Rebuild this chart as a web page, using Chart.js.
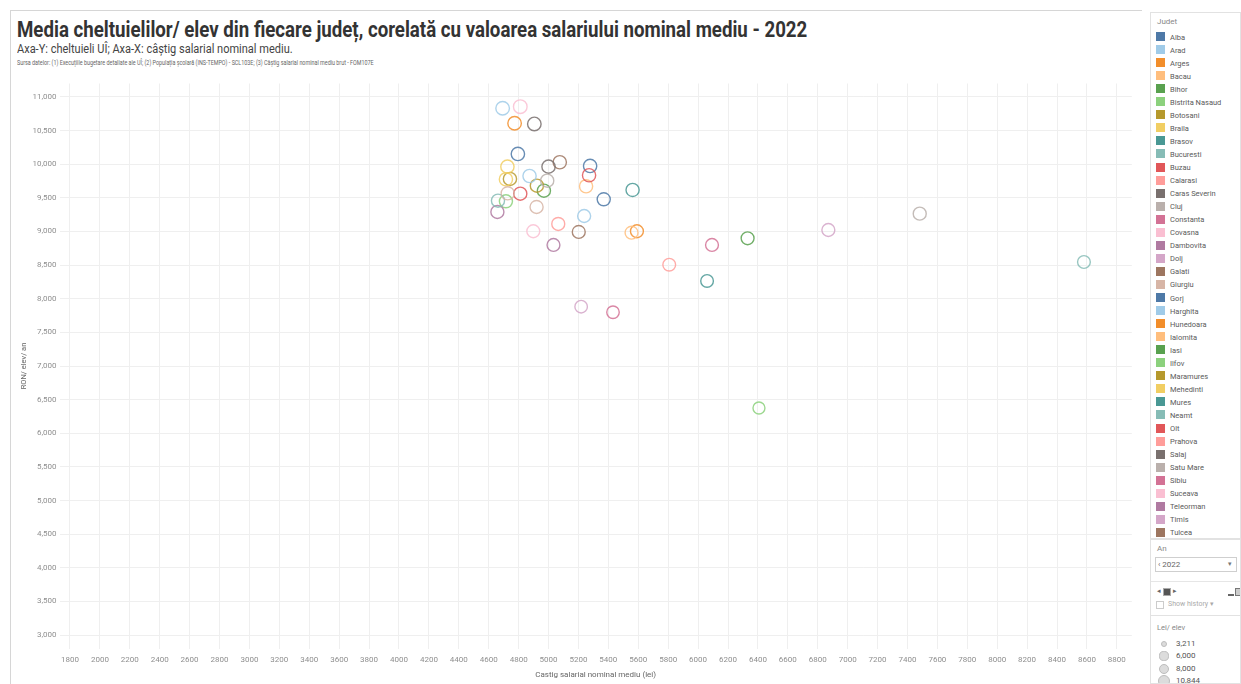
<!DOCTYPE html>
<html><head><meta charset="utf-8">
<script src="https://cdn.jsdelivr.net/npm/chart.js@4.4.1/dist/chart.umd.min.js"></script>
<style>
body{margin:0;width:1241px;height:684px;background:#fff;font-family:Roboto,"Noto Sans",sans-serif;overflow:hidden;position:relative}
.abs{position:absolute;white-space:nowrap;transform-origin:0 0}
.box{position:absolute;border:1px solid #e2e2e2;box-sizing:border-box;overflow:hidden}
.item{position:absolute;left:5px;height:13px;line-height:13px;font-size:7.5px;color:#5a5a5a;white-space:nowrap}
.sw{display:inline-block;width:9px;height:9px;vertical-align:middle;margin-right:5px;margin-top:-2px}
</style></head><body>
<div style="position:absolute;left:10px;top:10px;width:1131px;height:674px;border-top:1px solid #d6d6d6;border-left:1px solid #d6d6d6"></div>
<div class="abs fit" data-w="790" style="left:17px;top:17px;font-size:22px;line-height:26px;font-weight:700;color:#333">Media cheltuielilor/ elev din fiecare județ, corelată cu valoarea salariului nominal mediu - 2022</div>
<div class="abs fit" data-w="276" style="left:17px;top:42px;font-size:12px;line-height:14px;color:#444">Axa-Y: cheltuieli UÎ; Axa-X: câștig salarial nominal mediu.</div>
<div class="abs fit" data-w="357" style="left:17px;top:59px;font-size:7px;line-height:9px;color:#666">Sursa datelor: (1) Execuțiile bugetare detaliate ale UÎ; (2) Populația școlară (INS-TEMPO) - SCL103E; (3) Câștig salarial nominal mediu brut - FOM107E</div>
<canvas id="c" width="1130" height="609" style="position:absolute;left:10px;top:75px"></canvas>

<div class="box" id="legend" style="left:1150px;top:12px;width:91px;height:527px">
  <div class="abs" style="left:6px;top:4px;font-size:8px;color:#888">Judet</div>
</div>
<div class="box" style="left:1150px;top:539px;width:91px;height:77px">
  <div class="abs" style="left:6px;top:4px;font-size:8px;color:#888">An</div>
  <div class="abs" style="left:4px;top:17px;width:82px;height:15px;border:1px solid #cfcfcf;box-sizing:border-box;font-size:8px;line-height:13px;color:#666">&nbsp;‹ 2022<span style="position:absolute;right:4px;top:0;font-size:7px;color:#777">▾</span></div>
  <div class="abs" style="left:0;top:41px;width:91px;border-top:1px solid #e6e6e6"></div>
  <div class="abs" style="left:6px;top:48px;width:5px;height:7px;font-size:7px;line-height:7px;color:#666">◂</div>
  <div class="abs" style="left:12px;top:48px;width:8px;height:8px;background:#555;border:1px solid #aaa;box-sizing:border-box"></div>
  <div class="abs" style="left:22px;top:48px;width:5px;height:7px;font-size:7px;line-height:7px;color:#666">▸</div>
  <div class="abs" style="left:77px;top:54px;width:6px;height:2px;background:#666"></div>
  <div class="abs" style="left:84px;top:48px;width:7px;height:8px;background:#ccc;border:1px solid #777;box-sizing:border-box"></div>
  <div class="abs" style="left:5px;top:61px;width:8px;height:8px;border:1px solid #ccc;box-sizing:border-box"></div>
  <div class="abs" style="left:17px;top:60px;font-size:7px;color:#aaa">Show history ▾</div>
</div>
<div class="box" id="sizebox" style="left:1150px;top:615px;width:91px;height:69px">
  <div class="abs" style="left:6px;top:7px;font-size:7.5px;color:#888">Lei/ elev</div>
</div>

<script>
// ---- data ----
const counties = ["Alba","Arad","Arges","Bacau","Bihor","Bistrita Nasaud","Botosani","Braila","Brasov","Bucuresti","Buzau","Calarasi","Caras Severin","Cluj","Constanta","Covasna","Dambovita","Dolj","Galati","Giurgiu","Gorj","Harghita","Hunedoara","Ialomita","Iasi","Ilfov","Maramures","Mehedinti","Mures","Neamt","Olt","Prahova","Salaj","Satu Mare","Sibiu","Suceava","Teleorman","Timis","Tulcea","Vaslui","Valcea","Vrancea"];
const salary = [5278,5238,5591,5251,4969,4715,4742,4725,6060,8580,5271,5065,4905,7482,5431,4898,4658,5218,5075,4920,5369,4693,4773,5555,6331,6407,4922,4715,5562,4662,4811,5807,5000,4991,6093,4811,5033,6871,5202,4727,4795,4873];
const spending = [9974,9230,9003,9672,9607,9449,9781,9964,8264,8546,9836,9112,10599,9265,7799,9003,9290,7882,10029,9364,9479,10832,10609,8982,8899,6375,9681,9776,9617,9458,9562,8506,9964,9755,8799,10856,8799,9022,8993,9568,10152,9825];
const colors = ["#4E79A7","#A0CBE8","#F28E2B","#FFBE7D","#59A14F","#8CD17D","#B6992D","#F1CE63","#499894","#86BCB6","#E15759","#FF9D9A","#79706E","#BAB0AC","#D37295","#FABFD2","#B07AA1","#D4A6C8","#9D7660","#D7B5A6","#4E79A7","#A0CBE8","#F28E2B","#FFBE7D","#59A14F","#8CD17D","#B6992D","#F1CE63","#499894","#86BCB6","#E15759","#FF9D9A","#79706E","#BAB0AC","#D37295","#FABFD2","#B07AA1","#D4A6C8","#9D7660","#D7B5A6","#4E79A7","#A0CBE8"];
const xTicks = [1800,2000,2200,2400,2600,2800,3000,3200,3400,3600,3800,4000,4200,4400,4600,4800,5000,5200,5400,5600,5800,6000,6200,6400,6600,6800,7000,7200,7400,7600,7800,8000,8200,8400,8600,8800];
const yTicks = [3000,3500,4000,4500,5000,5500,6000,6500,7000,7500,8000,8500,9000,9500,10000,10500,11000];
const sizeLegendValues = [3211,6000,8000,10844];

// ---- fit condensed text ----
document.querySelectorAll('.fit').forEach(el=>{
  const w = el.offsetWidth, t = +el.dataset.w;
  el.style.transform = 'scaleX(' + (t / w) + ')';
});

// ---- legend panel ----
const lg = document.getElementById('legend');
counties.forEach((c,i)=>{
  const d = document.createElement('div');
  d.className = 'item';
  d.style.top = (17.5 + i*13.05) + 'px';
  d.innerHTML = '<span class="sw" style="background:'+colors[i]+'"></span>' + c;
  lg.appendChild(d);
});
const sizeR = v => 5.4 + 1.4*(v-3211)/(10844-3211);
const sb = document.getElementById('sizebox');
const legR = [3.2,4.6,5.3,6.2];
const legY = [28,40,53,65];
sizeLegendValues.forEach((v,i)=>{
  const r = legR[i];
  const c = document.createElement('div');
  c.className='abs';
  c.style.cssText += 'left:'+(13-r)+'px;top:'+(legY[i]-r)+'px;width:'+(2*r)+'px;height:'+(2*r)+'px;border-radius:50%;background:#dcdcdc;border:1px solid #bdbdbd;box-sizing:border-box';
  sb.appendChild(c);
  const t = document.createElement('div');
  t.className='abs';
  t.style.cssText += 'left:25px;top:'+(legY[i]-5)+'px;font-size:8px;line-height:10px;color:#555';
  t.textContent = v.toLocaleString('en-US');
  sb.appendChild(t);
});

// ---- chart ----
const hexA = (h,a) => 'rgba(' + parseInt(h.slice(1,3),16) + ',' + parseInt(h.slice(3,5),16) + ',' + parseInt(h.slice(5,7),16) + ',' + a + ')';
Chart.defaults.font.family = 'Roboto, "Noto Sans", sans-serif';
const ctx = document.getElementById('c').getContext('2d');
new Chart(ctx, {
  type: 'scatter',
  data: {
    datasets: [{
      data: counties.map((c,i)=>({x: salary[i], y: spending[i]})),
      pointBorderColor: colors.map(c => hexA(c, 0.85)),
      pointBackgroundColor: 'rgba(255,255,255,0)',
      pointBorderWidth: 1.4,
      pointRadius: c => sizeR(c.raw ? c.raw.y : 8000),
      pointHoverRadius: c => sizeR(c.raw ? c.raw.y : 8000)
    }]
  },
  options: {
    responsive: false,
    animation: false,
    devicePixelRatio: 1,
    layout: {padding: {top: 8.5, right: 5, left: 0, bottom: 0}},
    plugins: {legend: {display: false}, tooltip: {enabled: false}},
    scales: {
      x: {
        type: 'linear', min: 1730, max: 8900,
        afterBuildTicks: s => { s.ticks = xTicks.map(v => ({value: v})); },
        afterFit: s => { s.height = 35.5; },
        grid: {color: '#efefef', drawTicks: false},
        border: {display: false},
        ticks: {padding: 7, color: '#8f8f8f', font: {size: 8}, maxRotation: 0, autoSkip: false, callback: v => String(v)},
        title: {display: true, text: 'Castig salarial nominal mediu (lei)', color: '#666', font: {size: 8}, padding: {top: 0, bottom: 4}}
      },
      y: {
        type: 'linear', min: 2800, max: 11200,
        afterBuildTicks: s => { s.ticks = yTicks.map(v => ({value: v})); },
        afterFit: s => { s.width = 49.5; },
        grid: {color: '#efefef', drawTicks: false},
        border: {display: false},
        ticks: {padding: 3, color: '#8f8f8f', font: {size: 8}, autoSkip: false, callback: v => v.toLocaleString('en-US')},
        title: {display: true, text: 'RON/ elev/ an', color: '#666', font: {size: 7.5}, padding: {top: 10, bottom: 0}}
      }
    }
  }
});
</script>
</body></html>
